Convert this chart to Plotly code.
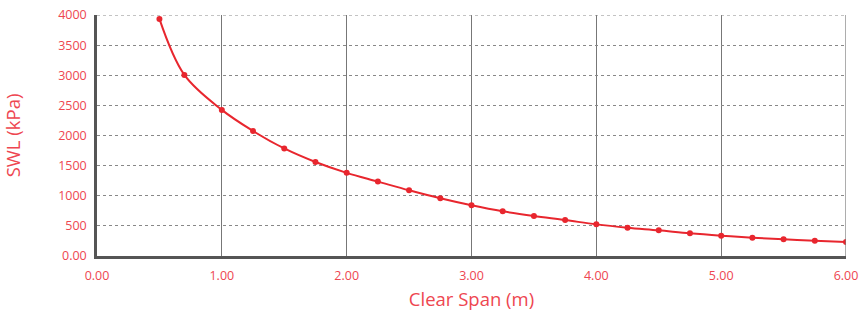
import plotly.graph_objects as go

clear_span = [0.5, 0.7, 1.0, 1.25, 1.5, 1.75, 2.0, 2.25, 2.5, 2.75, 3.0, 3.25,
              3.5, 3.75, 4.0, 4.25, 4.5, 4.75, 5.0, 5.25, 5.5, 5.75, 6.0]
swl = [3935, 3005, 2425, 2075, 1785, 1560, 1380, 1235, 1090, 957, 841, 741,
       663, 597, 525, 470, 426, 376, 337, 304, 277, 254, 232]

x_tickvals = [0, 1, 2, 3, 4, 5, 6]
x_ticktext = ["0.00", "1.00", "2.00", "3.00", "4.00", "5.00", "6.00"]
y_tickvals = [0, 500, 1000, 1500, 2000, 2500, 3000, 3500, 4000]
y_ticktext = ["0.00", "500", "1000", "1500", "2000", "2500", "3000", "3500", "4000"]

red = "#e8262e"
text_red = "#ee4650"
font = "Open Sans"

fig = go.Figure()
fig.add_trace(go.Scatter(
    x=clear_span, y=swl, mode="lines+markers",
    line=dict(color=red, width=2, shape="spline", smoothing=1.0),
    marker=dict(color=red, size=6),
    showlegend=False, hoverinfo="x+y",
))

fig.update_layout(
    width=866, height=311,
    margin=dict(l=97, r=20, t=15, b=55),
    plot_bgcolor="white", paper_bgcolor="white",
    font=dict(family=font, color=text_red, size=12),
    xaxis=dict(
        range=[0, 6], tickvals=x_tickvals, ticktext=x_ticktext,
        showgrid=True, gridcolor="#777777", gridwidth=1.2,
        showline=True, linecolor="#555555", linewidth=2.5,
        zeroline=False, ticks="", ticklabelstandoff=6, automargin=False,
        ticklabeloverflow="allow",
        tickfont=dict(size=12.5, color=text_red, family=font),
        title=dict(text="Clear Span (m)", font=dict(size=18.5, color=text_red, family=font), standoff=13),
    ),
    yaxis=dict(
        range=[0, 4000], tickvals=y_tickvals, ticktext=y_ticktext,
        showgrid=True, gridcolor="#888888", gridwidth=1, griddash="dot",
        showline=True, linecolor="#555555", linewidth=2.5,
        zeroline=False, ticks="", ticklabelstandoff=5, automargin=False,
        ticklabeloverflow="allow",
        tickfont=dict(size=12.5, color=text_red, family=font),
        title=dict(text="SWL (kPa)", font=dict(size=18.5, color=text_red, family=font), standoff=37),
    ),
    shapes=[
        dict(type="line", xref="x", yref="paper", x0=6, x1=6, y0=0, y1=1,
             line=dict(color="#777777", width=1.2)),
        dict(type="line", xref="paper", yref="y", x0=0, x1=1, y0=4000, y1=4000,
             line=dict(color="#888888", width=1, dash="dot")),
    ],
)

fig.write_html("out.html", config={"displayModeBar": False},
               post_script="document.body.style.margin='0';")
